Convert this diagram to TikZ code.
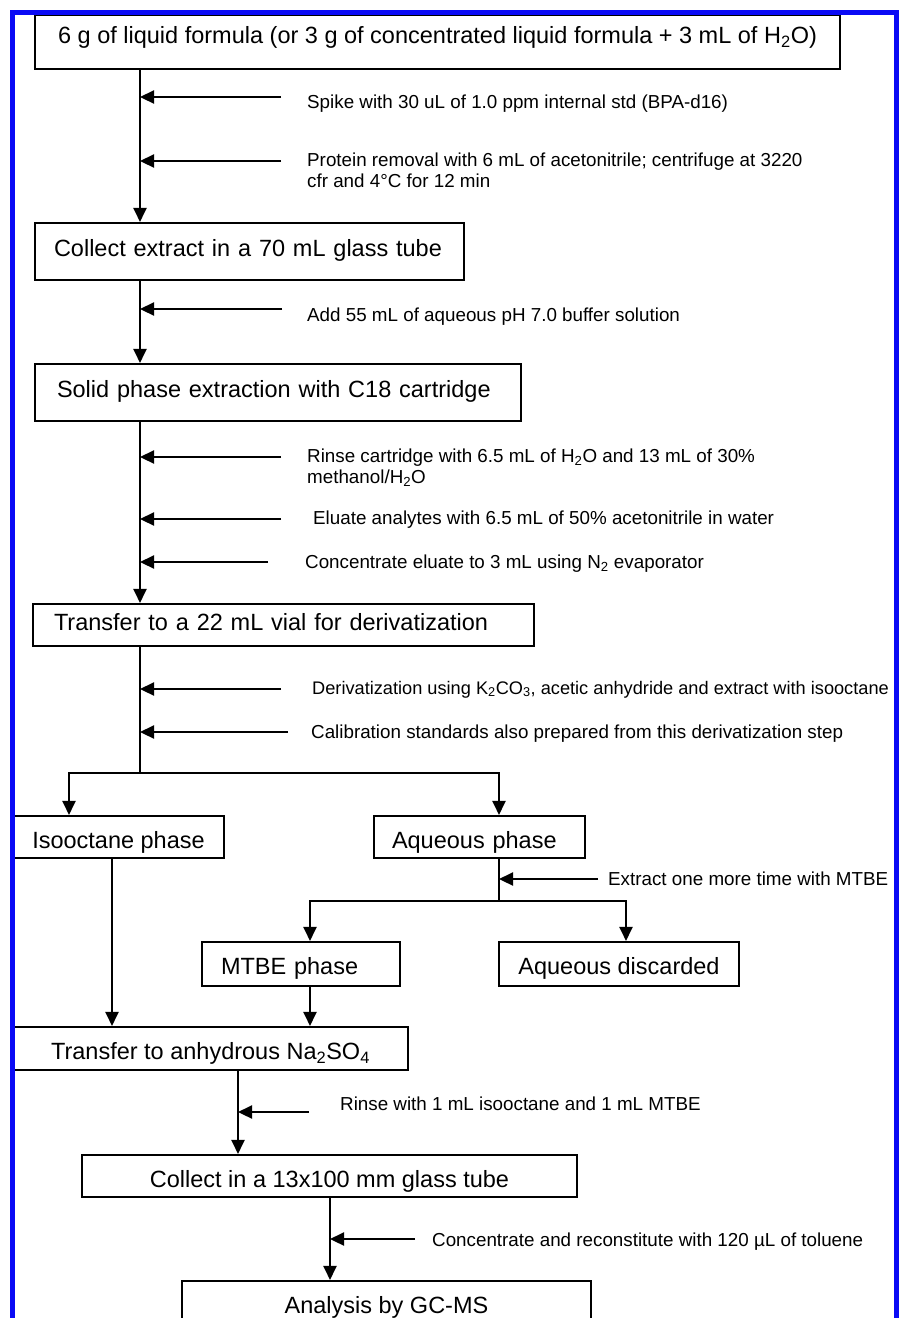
\documentclass[tikz,border=0pt]{standalone}
\usepackage{fontspec}
\setmainfont{Liberation Sans}
\usetikzlibrary{arrows.meta}
\definecolor{frameblue}{RGB}{10,10,245}
\newcommand\bxfont{\fontsize{23.5}{28}\selectfont}
\newcommand\lbfont{\fontsize{18.8}{22.5}\selectfont}
\newcommand\twolines[2]{\vtop{\baselineskip=21.5pt\hbox{#1}\hbox{#2}}}
\begin{document}
\begin{tikzpicture}[x=1pt,y=-1pt,
  box/.style={draw, line width=2.1pt, inner ysep=0pt, inner xsep=0pt, font=\bxfont},
  lbox/.style={align=left},
  lab/.style={anchor=base west, inner sep=0pt, font=\lbfont},
  arr/.style={line width=2.2pt, -{Triangle[length=14pt,width=13pt]}},
  ln/.style={line width=2.2pt}]
\useasboundingbox (0,0) rectangle (899,1318);

% boxes
\node[box, minimum width=805pt, minimum height=54pt, text height=17pt, text depth=14pt] (B1) at (437.5,42)
  {6 g of liquid formula (or 3 g of concentrated liquid formula + 3 mL of H\textsubscript{2}O)};
\node[box, lbox, text width=391pt, inner xsep=19pt, minimum height=57pt, text height=17pt, text depth=8pt] (B2) at (249.5,251.5)
  {Collect extract in a 70 mL glass tube};
\node[box, lbox, text width=442pt, inner xsep=22pt, minimum height=57pt, text height=17pt, text depth=8pt] (B3) at (278,392.5)
  {Solid phase extraction with C18 cartridge};
\node[box, lbox, text width=459pt, inner xsep=21pt, minimum height=42pt, text height=17pt, text depth=7pt] (B4) at (283.5,625)
  {Transfer to a 22 mL vial for derivatization};
\node[box, minimum width=211pt, minimum height=42pt, text height=23pt, text depth=0pt] (Iso) at (118.5,837)
  {Isooctane phase};
\node[box, lbox, text width=175pt, inner xsep=18pt, minimum height=42pt, text height=23pt, text depth=0pt] (Aq) at (479.5,837)
  {Aqueous phase};
\node[box, lbox, text width=160pt, inner xsep=19pt, minimum height=44pt, text height=21pt, text depth=0pt] (MTBE) at (301,964)
  {MTBE phase};
\node[box, minimum width=240pt, minimum height=44pt, text height=21pt, text depth=0pt] (AqD) at (619,964)
  {Aqueous discarded};
\node[box, minimum width=395pt, minimum height=43pt, text height=22pt, text depth=0pt] (Na) at (210.5,1048.5)
  {Transfer to anhydrous Na\textsubscript{2}SO\textsubscript{4}};
\node[box, minimum width=495pt, minimum height=42pt, text height=22pt, text depth=0pt] (Col) at (329.5,1176)
  {Collect in a 13x100 mm glass tube};
\node[box, minimum width=409pt, minimum height=60pt, text height=17pt, text depth=13pt] (GC) at (386.5,1311)
  {Analysis by GC-MS};

% vertical guide coordinates
\coordinate (xa) at (140,0);
\coordinate (xiso) at (69,0);
\coordinate (xaq) at (499,0);
\coordinate (xi2) at (112,0);
\coordinate (xm) at (310,0);
\coordinate (xd) at (626,0);
\coordinate (xn) at (238,0);
\coordinate (xc) at (330,0);
\coordinate (j1) at (140,773);
\coordinate (j2) at (499,901);

% side arrow start points
\coordinate (s1) at (281,97);
\coordinate (s2) at (281,161);
\coordinate (s3) at (282,309);
\coordinate (s4) at (281,457);
\coordinate (s5) at (281,519);
\coordinate (s6) at (268,562);
\coordinate (s7) at (281,689);
\coordinate (s8) at (288,732);
\coordinate (s9) at (598,879);
\coordinate (s10) at (309,1112);
\coordinate (s11) at (415,1239);

% main flow
\draw[arr] (B1.south -| xa) -- (B2.north -| xa);
\draw[arr] (B2.south -| xa) -- (B3.north -| xa);
\draw[arr] (B3.south -| xa) -- (B4.north -| xa);
\draw[ln] (B4.south -| xa) -- (j1);
\draw[arr] (j1) -| (Iso.north -| xiso);
\draw[arr] (j1) -| (Aq.north -| xaq);
\draw[ln] (Aq.south -| xaq) -- (j2);
\draw[arr] (j2) -| (MTBE.north -| xm);
\draw[arr] (j2) -| (AqD.north -| xd);
\draw[arr] (Iso.south -| xi2) -- (Na.north -| xi2);
\draw[arr] (MTBE.south -| xm) -- (Na.north -| xm);
\draw[arr] (Na.south -| xn) -- (Col.north -| xn);
\draw[arr] (Col.south -| xc) -- (GC.north -| xc);

% side arrows
\foreach \s in {s1,s2,s3,s4,s5,s6,s7,s8} \draw[arr] (\s) -- (\s -| xa);
\draw[arr] (s9) -- (s9 -| xaq);
\draw[arr] (s10) -- (s10 -| xn);
\draw[arr] (s11) -- (s11 -| xc);

% labels
\node[lab] (L1) at (307,108) {Spike with 30 uL of 1.0 ppm internal std (BPA-d16)};
\node[lab] (L2) at (307,166) {\twolines{Protein removal with 6 mL of acetonitrile; centrifuge at 3220}{cfr and 4°C for 12 min}};
\node[lab] (L3) at (307,321) {Add 55 mL of aqueous pH 7.0 buffer solution};
\node[lab] (L4) at (307,462) {\twolines{Rinse cartridge with 6.5 mL of H\textsubscript{2}O and 13 mL of 30\%}{methanol/H\textsubscript{2}O}};
\node[lab] (L5) at (313,524) {Eluate analytes with 6.5 mL of 50\% acetonitrile in water};
\node[lab] (L6) at (305,568) {Concentrate eluate to 3 mL using N\textsubscript{2} evaporator};
\node[lab, font=\fontsize{18.2}{22}\selectfont] (L7) at (312,694) {Derivatization using K\textsubscript{2}CO\textsubscript{3}, acetic anhydride and extract with isooctane};
\node[lab] (L8) at (311,738) {Calibration standards also prepared from this derivatization step};
\node[lab] (L9) at (608,885) {Extract one more time with MTBE};
\node[lab] (L10) at (340,1110) {Rinse with 1 mL isooctane and 1 mL MTBE};
\node[lab] (L11) at (432,1246) {Concentrate and reconstitute with 120 µL of toluene};

% blue frame
\draw[frameblue, line width=5pt] (12,1330) -- (12,12.5) -- (896,12.5) -- (896,1330);
\end{tikzpicture}
\end{document}
